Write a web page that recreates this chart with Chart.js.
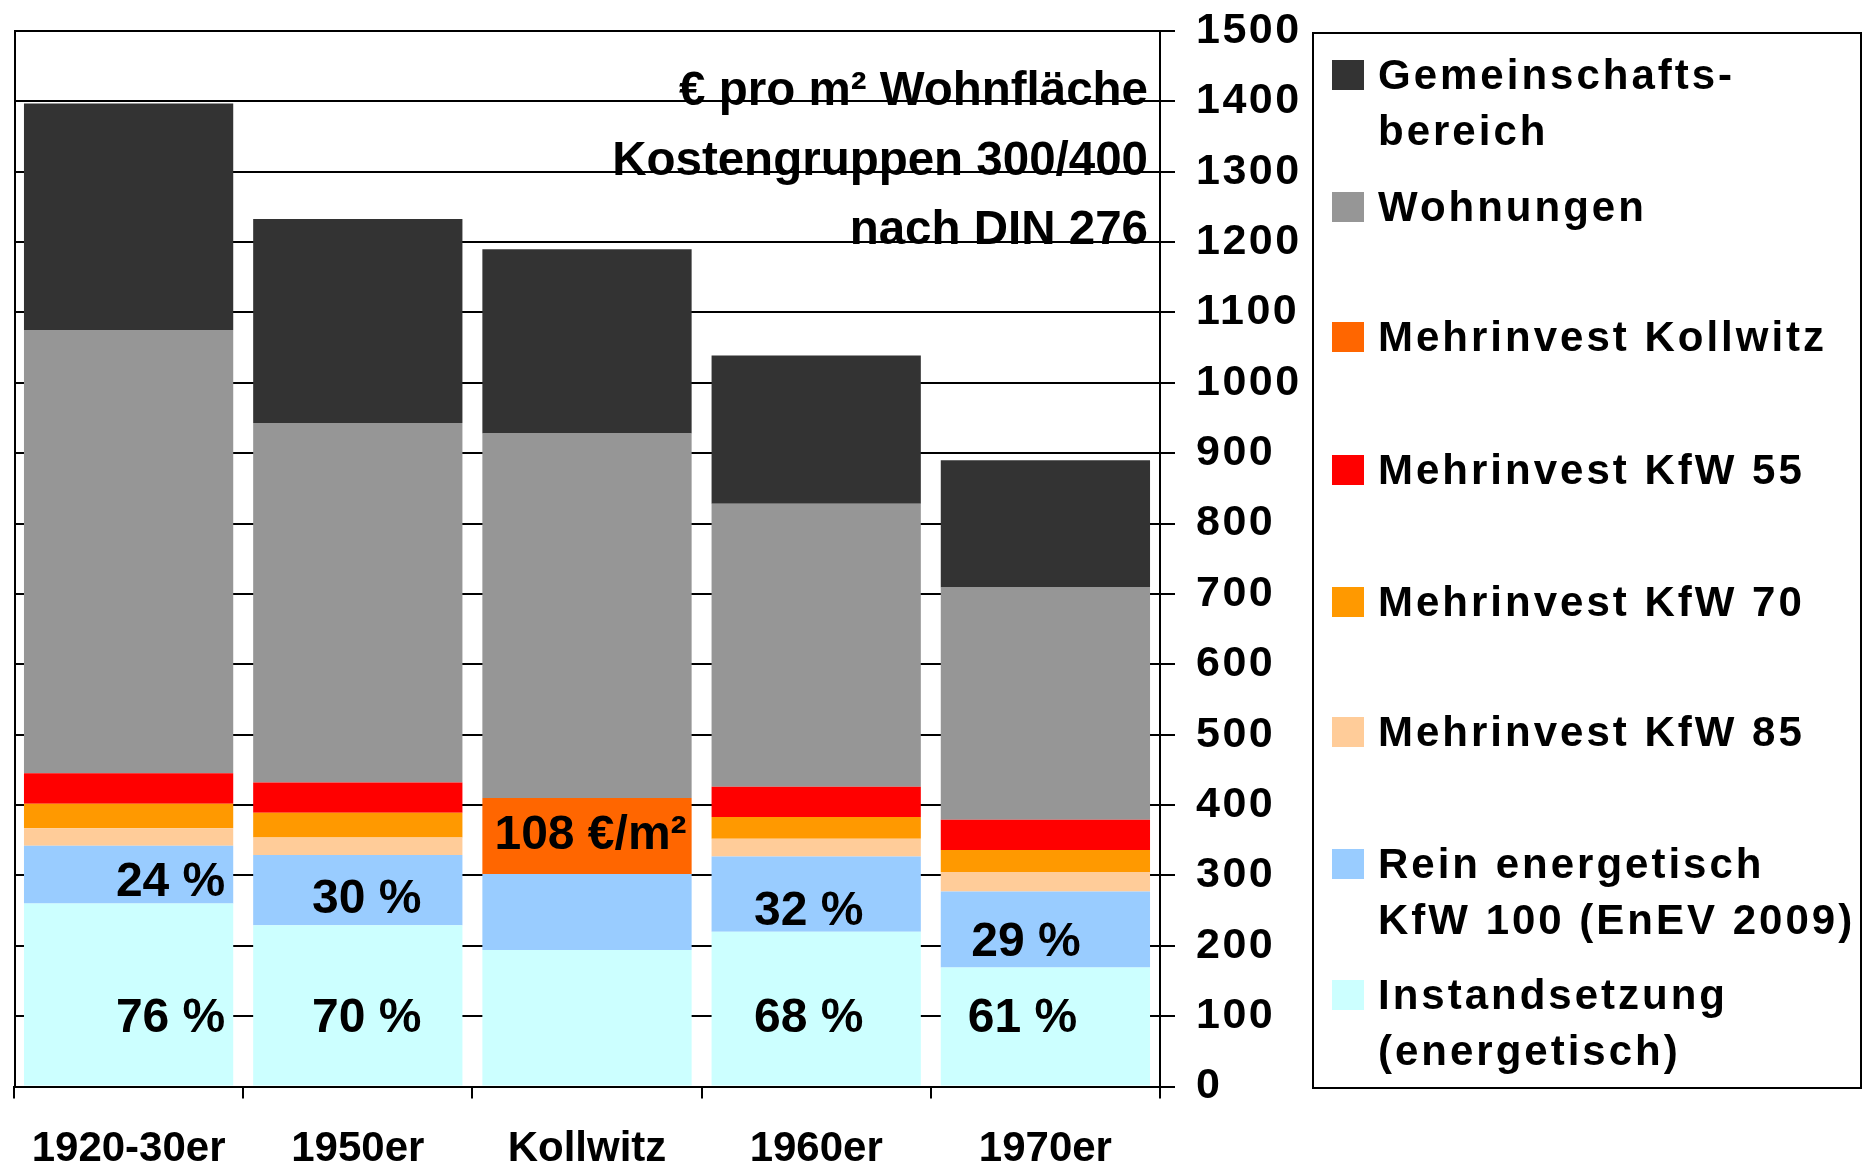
<!DOCTYPE html>
<html><head><meta charset="utf-8">
<script src="https://cdn.jsdelivr.net/npm/chart.js@4.4.1/dist/chart.umd.min.js"></script>
<style>html,body{margin:0;padding:0;background:#fff;overflow:hidden}
#wrap{position:relative;width:1864px;height:1175px}</style>
</head><body><div id="wrap"><canvas id="c" width="1864" height="1175"></canvas></div>
<script>
// ---- data ----
const categories = ['1920-30er', '1950er', 'Kollwitz', '1960er', '1970er'];
const instandsetzung = [260, 229, 194, 220, 169];
const reinEnergetisch = [82, 100, 108, 107, 108];
const kfw85 = [25, 25, 0, 25, 28];
const kfw70 = [35, 35, 0, 31, 31];
const kfw55 = [43, 43, 0, 43, 43];
const mehrKollwitz = [0, 0, 108, 0, 0];
const wohnungen = [630, 511, 518, 402, 330];
const gemeinschaft = [322, 290, 262, 211, 181];
const yTickValues = [0, 100, 200, 300, 400, 500, 600, 700, 800, 900, 1000, 1100, 1200, 1300, 1400, 1500];
const pctUpper = ['24 %', '30 %', '', '32 %', '29 %'];
const pctLower = ['76 %', '70 %', '', '68 %', '61 %'];
const kollwitzLabel = ['', '', '108 €/m²', '', ''];
const titleLines = ['€ pro m² Wohnfläche', 'Kostengruppen 300/400', 'nach DIN 276'];
const legendLines = [
  ['Gemeinschafts-', 'bereich'],
  ['Wohnungen'],
  ['Mehrinvest Kollwitz'],
  ['Mehrinvest KfW 55'],
  ['Mehrinvest KfW 70'],
  ['Mehrinvest KfW 85'],
  ['Rein energetisch', 'KfW 100 (EnEV 2009)'],
  ['Instandsetzung', '(energetisch)']
];

// ---- layout / style ----
const FONT = "'Liberation Sans', Arial, sans-serif";
const colors = {
  instand: '#CCFFFF', rein: '#99CCFF', k85: '#FFCC99', k70: '#FF9900',
  k55: '#FF0000', koll: '#FF6600', wohn: '#969696', gem: '#333333'
};
// label anchors: value (baseline, data units) and x-offset from bar centre (px)
const upperAnchor = [{v: 271, dx: 42}, {v: 247, dx: 9}, null, {v: 230, dx: -7.5}, {v: 185, dx: -19.5}];
const lowerAnchor = [{v: 78, dx: 42}, {v: 78, dx: 9}, null, {v: 78, dx: -7.5}, {v: 78, dx: -23}];
const kollAnchor = {v: 337, dx: 3.5};
const legendBox = {x: 1313, y: 33, w: 548, h: 1055};
const legendY = [75, 207, 337, 470, 602, 732, 864, 995];

const ds = (label, data, color) => ({label, data, backgroundColor: color, borderWidth: 0,
  categoryPercentage: 1.0, barPercentage: 0.913});

const overlay = {
  id: 'overlay',
  afterDatasetsDraw(chart) {
    const ctx = chart.ctx;
    const x = chart.scales.x, y = chart.scales.y;
    const ca = chart.chartArea;
    ctx.save();
    ctx.letterSpacing = '0px';
    // left border
    ctx.strokeStyle = '#000'; ctx.lineWidth = 2;
    ctx.beginPath(); ctx.moveTo(15, y.getPixelForValue(1500)); ctx.lineTo(15, ca.bottom); ctx.stroke();
    // titles
    ctx.fillStyle = '#000';
    ctx.font = 'bold 47.5px ' + FONT;
    ctx.textAlign = 'right'; ctx.textBaseline = 'alphabetic';
    const tb = [105, 175, 244];
    titleLines.forEach((t, i) => ctx.fillText(t, 1148, tb[i]));
    // percentage labels
    ctx.textAlign = 'center';
    ctx.font = 'bold 48px ' + FONT;
    categories.forEach((c, i) => {
      const cx = x.getPixelForValue(i);
      if (pctUpper[i] && upperAnchor[i]) ctx.fillText(pctUpper[i], cx + upperAnchor[i].dx, y.getPixelForValue(upperAnchor[i].v));
      if (pctLower[i] && lowerAnchor[i]) ctx.fillText(pctLower[i], cx + lowerAnchor[i].dx, y.getPixelForValue(lowerAnchor[i].v));
      if (kollwitzLabel[i]) ctx.fillText(kollwitzLabel[i], cx + kollAnchor.dx, y.getPixelForValue(kollAnchor.v));
    });
    ctx.restore();
    // y tick labels drawn after this (z:1) with letter spacing
    ctx.letterSpacing = '2.5px';
  },
  afterDraw(chart) {
    const ctx = chart.ctx;
    ctx.letterSpacing = '0px';
    ctx.save();
    ctx.strokeStyle = '#000'; ctx.lineWidth = 2;
    ctx.strokeRect(legendBox.x, legendBox.y, legendBox.w, legendBox.h);
    const order = [7, 6, 5, 4, 3, 2, 1, 0]; // dataset indices top->bottom
    ctx.font = 'bold 42px ' + FONT;
    ctx.textAlign = 'left'; ctx.textBaseline = 'middle';
    ctx.letterSpacing = '3px';
    order.forEach((di, k) => {
      const d = chart.data.datasets[di];
      const cy = legendY[k];
      ctx.fillStyle = d.backgroundColor;
      ctx.fillRect(1332, cy - 15, 32, 30);
      ctx.fillStyle = '#000';
      legendLines[k].forEach((ln, j) => ctx.fillText(ln, 1378, cy + 2 + j * 56));
    });
    ctx.letterSpacing = '0px';
    ctx.restore();
  }
};

new Chart(document.getElementById('c'), {
  type: 'bar',
  data: {
    labels: categories,
    datasets: [
      ds('Instandsetzung (energetisch)', instandsetzung, colors.instand),
      ds('Rein energetisch KfW 100 (EnEV 2009)', reinEnergetisch, colors.rein),
      ds('Mehrinvest KfW 85', kfw85, colors.k85),
      ds('Mehrinvest KfW 70', kfw70, colors.k70),
      ds('Mehrinvest KfW 55', kfw55, colors.k55),
      ds('Mehrinvest Kollwitz', mehrKollwitz, colors.koll),
      ds('Wohnungen', wohnungen, colors.wohn),
      ds('Gemeinschaftsbereich', gemeinschaft, colors.gem)
    ]
  },
  options: {
    responsive: false, animation: false, devicePixelRatio: 1,
    layout: {padding: {left: 14, top: 31, right: 0, bottom: 0}},
    plugins: {legend: {display: false}, tooltip: {enabled: false}},
    scales: {
      x: {
        stacked: true, offset: true,
        grid: {offset: true, drawOnChartArea: false, drawTicks: true, tickLength: 12, color: '#000', lineWidth: 2},
        border: {display: true, color: '#000', width: 2},
        ticks: {color: '#000', font: {family: FONT, weight: 'bold', size: 42}, padding: 26, maxRotation: 0, autoSkip: false},
        afterFit(s) { s.height = 88.5; s.paddingLeft = 0; s.paddingRight = 0; }
      },
      y: {
        stacked: true, position: 'right', min: 0, max: 1500,
        afterBuildTicks(s) { s.ticks = yTickValues.map(v => ({value: v})); },
        grid: {color: '#000', lineWidth: 2, tickLength: 15},
        border: {display: true, color: '#000', width: 2},
        ticks: {color: '#000', font: {family: FONT, weight: 'bold', size: 43}, padding: 21, z: 1,
          callback: v => String(v)},
        afterFit(s) { s.width = 704; s.paddingTop = 0; s.paddingBottom = 0; }
      }
    }
  },
  plugins: [overlay]
});
</script></body></html>
